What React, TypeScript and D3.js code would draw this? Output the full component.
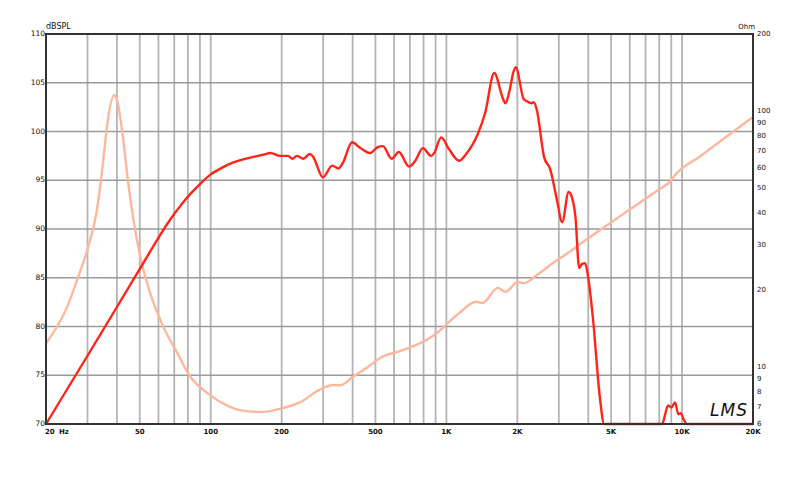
import React from "react";
import * as d3 from "d3";

const splFreq = [20, 30, 40, 50, 60, 67, 75, 82, 90, 100, 112, 124, 140, 155, 166, 180, 196, 213, 222, 232, 247, 263, 272, 299, 328, 348, 364, 398, 432, 475, 511, 538, 586, 628, 695, 738, 794, 862, 888, 950, 1025, 1132, 1213, 1362, 1460, 1596, 1742, 1780, 1850, 1930, 1970, 2130, 2200, 2290, 2350, 2420, 2596, 2760, 2944, 3100, 3300, 3380, 3530, 3660, 3760, 3880, 4010, 4180, 4490, 4670, 8240, 8400, 8720, 9000, 9340, 9640, 9900, 10100, 10500, 20000];
const splDb = [70, 77, 82, 85.9, 89.1, 90.9, 92.5, 93.6, 94.6, 95.6, 96.3, 96.8, 97.2, 97.45, 97.6, 97.8, 97.5, 97.5, 97.2, 97.5, 97.2, 97.7, 97.4, 95.3, 96.5, 96.2, 96.8, 98.9, 98.3, 97.8, 98.4, 98.5, 97.2, 97.9, 96.4, 97.0, 98.3, 97.5, 97.8, 99.4, 98.2, 97.0, 97.7, 99.8, 101.9, 106.0, 103.3, 102.9, 104.1, 106.2, 106.6, 103.3, 103.1, 102.9, 103.0, 102.2, 97.4, 96.1, 93.0, 90.7, 93.8, 93.5, 91.2, 86.0, 86.4, 86.5, 84.8, 81.0, 72.5, 70, 70, 70.6, 71.9, 71.7, 72.2, 71.0, 71.1, 70.6, 70, 70];

const impFreq = [20, 24.6, 27.1, 30.2, 32.9, 34.9, 36.6, 38.9, 40.2, 42.4, 44.5, 46.8, 50.3, 55.3, 62.9, 72, 81.8, 93, 109, 133, 163, 196, 240, 289, 330, 355, 400, 458, 523, 654, 850, 911, 1110, 1340, 1420, 1654, 1780, 2010, 2130, 2420, 2830, 3330, 3700, 4490, 5440, 6620, 8060, 8870, 9340, 11900, 15200, 20000];
const impOhm = [12.4, 17.2, 21.9, 29.5, 41.1, 62.7, 92.3, 115.6, 108.6, 79.2, 53.8, 38.6, 26.9, 19.5, 14.4, 11.4, 9.2, 8.15, 7.35, 6.8, 6.68, 6.87, 7.3, 8.15, 8.52, 8.5, 9.15, 9.93, 10.86, 11.67, 13.0, 13.6, 16.0, 18.0, 17.8, 20.4, 19.7, 21.5, 21.3, 22.9, 25.5, 28.2, 30.3, 34.3, 38.8, 43.9, 49.7, 52.9, 56.3, 66.5, 78.7, 94.9];

const dbTicks = [70, 75, 80, 85, 90, 95, 100, 105, 110];
const ohmTicks = [6, 7, 8, 9, 10, 20, 30, 40, 50, 60, 70, 80, 90, 100, 200];
const gridFreqs = [30, 40, 50, 60, 70, 80, 90, 100, 200, 300, 400, 500, 600, 700, 800, 900, 1000, 2000, 3000, 4000, 5000, 6000, 7000, 8000, 9000, 10000];
const freqLabels: [number, string][] = [[50, "50"], [100, "100"], [200, "200"], [500, "500"], [1000, "1K"], [2000, "2K"], [5000, "5K"], [10000, "10K"], [20000, "20K"]];

const L = 46, R = 753, T = 34, B = 424;

export default function App() {
  const x = d3.scaleLog().domain([20, 20000]).range([L, R]);
  const y = d3.scaleLinear().domain([70, 110]).range([B, T]);
  const yo = d3.scaleLog().domain([6, 200]).range([B, T]);

  const splLine = d3.line<number>()
    .x((_, i) => x(splFreq[i]))
    .y((d) => y(d))
    .curve(d3.curveMonotoneX);
  const impLine = d3.line<number>()
    .x((_, i) => x(impFreq[i]))
    .y((d) => yo(d))
    .curve(d3.curveMonotoneX);

  const font = "'DejaVu Sans', Verdana, sans-serif";

  return (
    <div style={{ position: "fixed", left: 0, top: 0, width: 800, height: 484, background: "#fff" }}>
      <svg width={800} height={484} style={{ display: "block" }}>
        <rect width={800} height={484} fill="#fff" />
        {gridFreqs.map((f) => (
          <line key={"v" + f} x1={x(f)} x2={x(f)} y1={T} y2={B} stroke="#b4b4b4" strokeWidth={1.8} />
        ))}
        {dbTicks.slice(1, -1).map((d) => (
          <line key={"h" + d} x1={L} x2={R} y1={y(d)} y2={y(d)} stroke="#9a9a9a" strokeWidth={1.6} />
        ))}
        <path d={impLine(impOhm) || ""} fill="none" stroke="#fdb79c" strokeWidth={2.4} strokeLinejoin="round" />
        <path d={splLine(splDb) || ""} fill="none" stroke="#ff2418" strokeWidth={2.4} strokeLinejoin="round" />
        <rect x={L} y={T} width={R - L} height={B - T} fill="none" stroke="#333" strokeWidth={2} />
        {dbTicks.map((d) => (
          <text key={"dl" + d} x={45} y={y(d) + 2} textAnchor="end" fontFamily={font} fontSize={7.5} fill="#111">{d}</text>
        ))}
        {ohmTicks.map((o) => (
          <text key={"ol" + o} x={757} y={yo(o) + 1.8} textAnchor="start" fontFamily={font} fontSize={7} fill="#111">{o}</text>
        ))}
        <text x={46} y={29} fontFamily={font} fontSize={8} fill="#111">dBSPL</text>
        <text x={755} y={28.5} textAnchor="end" fontFamily={font} fontSize={7} fill="#111">Ohm</text>
        <text x={45} y={434} fontFamily={font} fontSize={7} fontWeight="bold" fill="#111">20</text>
        <text x={59} y={434} fontFamily={font} fontSize={7} fontWeight="bold" fill="#111">Hz</text>
        {freqLabels.map(([f, s]) => (
          <text key={"fl" + f} x={x(f)} y={434} textAnchor="middle" fontFamily={font} fontSize={7} fontWeight="bold" fill="#111">{s}</text>
        ))}
        <text x={710} y={416} fontFamily="'DejaVu Sans', sans-serif" fontStyle="italic" fontWeight={300} fontSize={17} fill="#111" letterSpacing={1}>LMS</text>
      </svg>
    </div>
  );
}
